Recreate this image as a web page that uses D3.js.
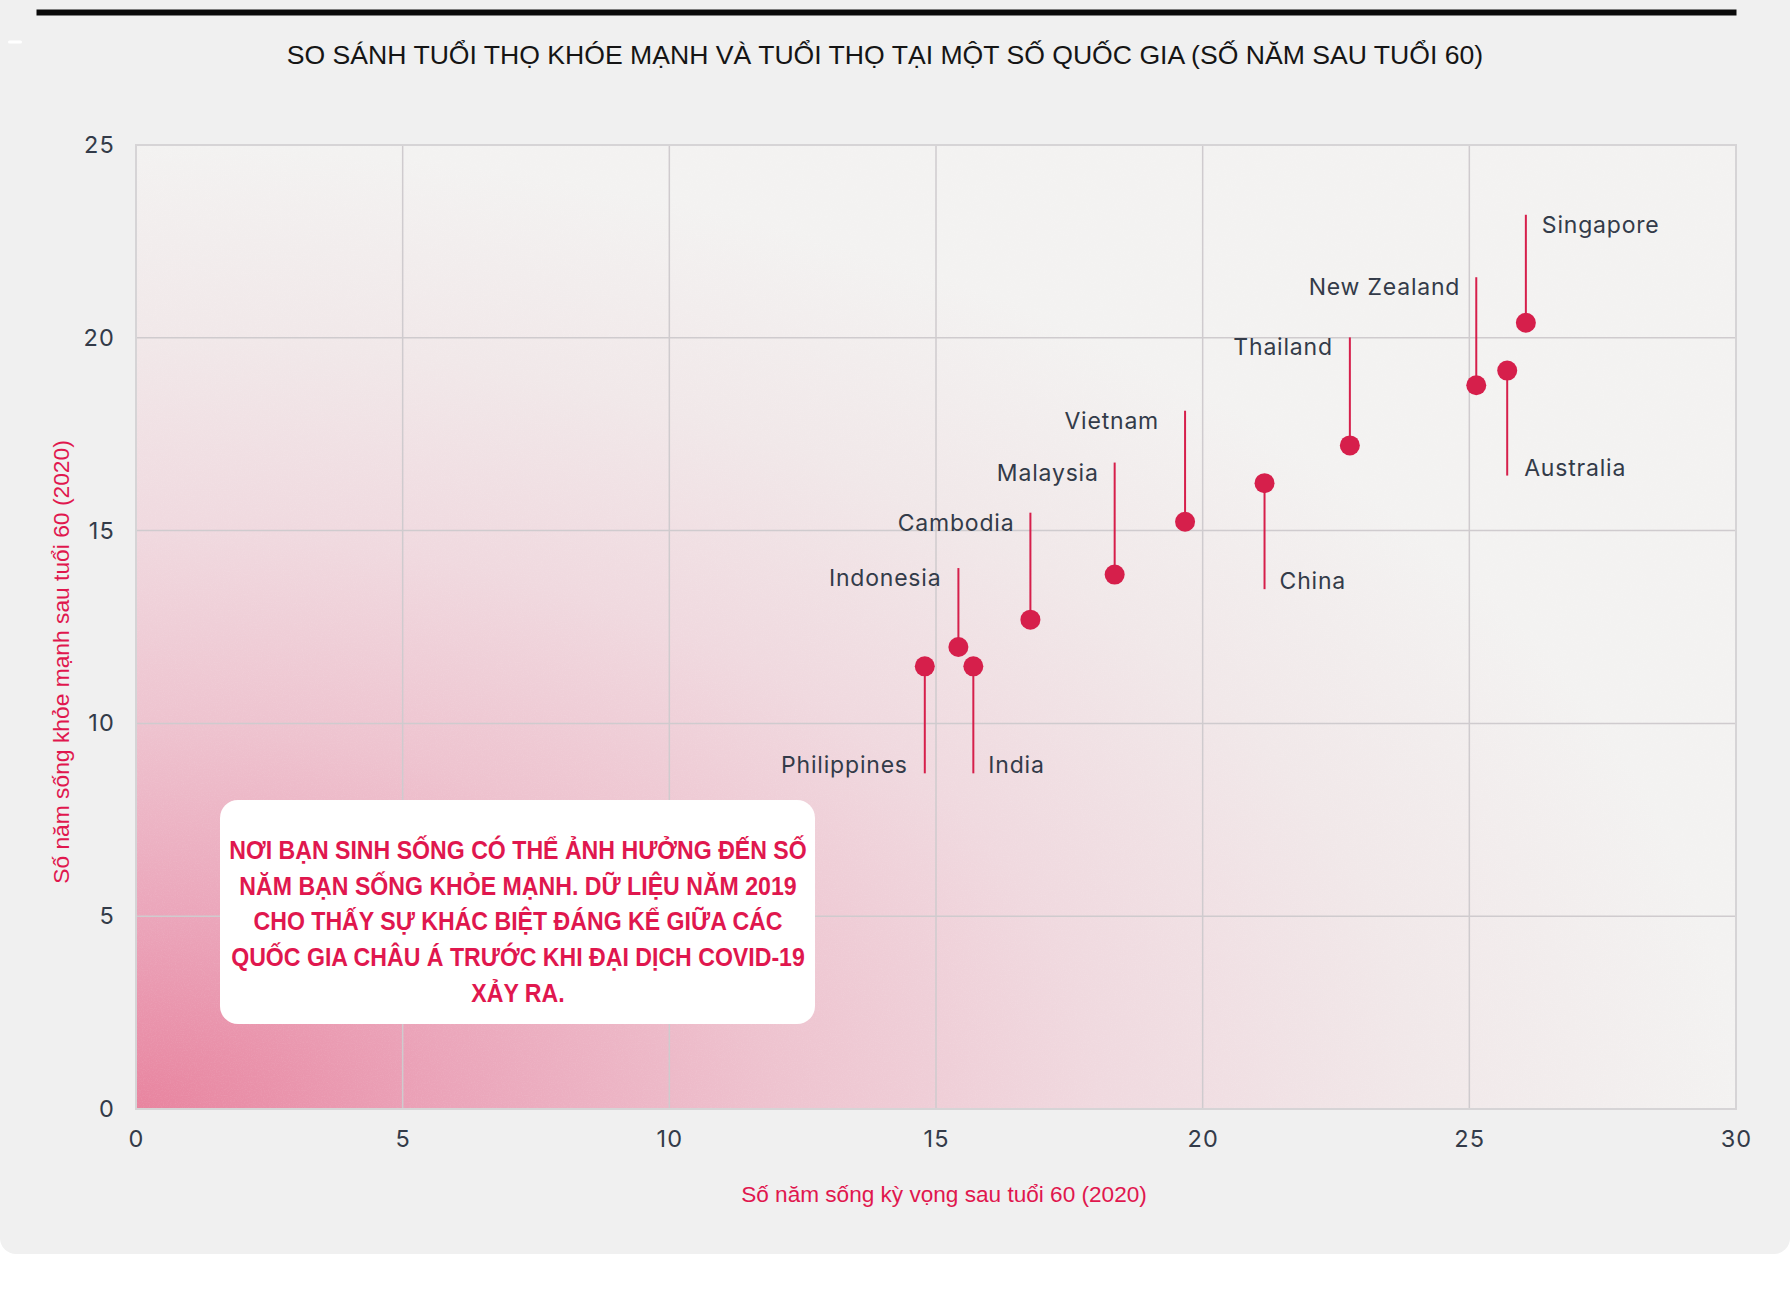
<!DOCTYPE html>
<html>
<head>
<meta charset="utf-8">
<script src="https://cdn.jsdelivr.net/npm/d3@7"></script>
<style>
  html, body { margin: 0; padding: 0; background: #ffffff; }
  svg { display: block; }
</style>
</head>
<body>
<svg id="chart" width="1790" height="1290"></svg>
<script>
// ---------- data ----------
const countries = ["Singapore", "New Zealand", "Australia", "Thailand", "China", "Vietnam",
                   "Malaysia", "Cambodia", "Indonesia", "Philippines", "India"];
const lifeExpectancy60 = [26.06, 25.13, 25.71, 22.76, 21.16, 19.67, 18.35, 16.77, 15.42, 14.79, 15.70];
const healthyLife60    = [20.39, 18.77, 19.15, 17.21, 16.23, 15.23, 13.86, 12.69, 11.98, 11.48, 11.48];
const xTicks = [0, 5, 10, 15, 20, 25, 30];
const yTicks = [0, 5, 10, 15, 20, 25];
const chartTitle = "SO SÁNH TUỔI THỌ KHÓE MẠNH VÀ TUỔI THỌ TẠI MỘT SỐ QUỐC GIA (SỐ NĂM SAU TUỔI 60)";
const xTitle = "Số năm sống kỳ vọng sau tuổi 60 (2020)";
const yTitle = "Số năm sống khỏe mạnh sau tuổi 60 (2020)";
const noteLines = [
  "NƠI BẠN SINH SỐNG CÓ THỂ ẢNH HƯỞNG ĐẾN SỐ",
  "NĂM BẠN SỐNG KHỎE MẠNH. DỮ LIỆU NĂM 2019",
  "CHO THẤY SỰ KHÁC BIỆT ĐÁNG KỂ GIỮA CÁC",
  "QUỐC GIA CHÂU Á TRƯỚC KHI ĐẠI DỊCH COVID-19",
  "XẢY RA."
];

// ---------- label layout (annotation placement, px) ----------
const labelLayout = {
  "Singapore":   { dir: -1, len: 108, side: "right", gap: 16 },
  "New Zealand": { dir: -1, len: 108, side: "left",  gap: 16 },
  "Australia":   { dir:  1, len: 105, side: "right", gap: 17 },
  "Thailand":    { dir: -1, len: 108, side: "left",  gap: 17 },
  "China":       { dir:  1, len: 106, side: "right", gap: 15 },
  "Vietnam":     { dir: -1, len: 111, side: "left",  gap: 26 },
  "Malaysia":    { dir: -1, len: 112, side: "left",  gap: 16 },
  "Cambodia":    { dir: -1, len: 107, side: "left",  gap: 16 },
  "Indonesia":   { dir: -1, len: 79,  side: "left",  gap: 17 },
  "Philippines": { dir:  1, len: 107, side: "left",  gap: 17 },
  "India":       { dir:  1, len: 107, side: "right", gap: 15 }
};

const data = countries.map((c, i) => ({ name: c, x: lifeExpectancy60[i], y: healthyLife60[i] }));

// ---------- layout ----------
const W = 1790, H = 1290;
const plot = { left: 136, right: 1736, top: 145, bottom: 1109 };
const RED = "#d61f4b";
const TEXTRED = "#e0174e";
const INK = "#333b49";

const svg = d3.select("#chart");
const defs = svg.append("defs");

// panel background
svg.append("rect").attr("x", 0).attr("y", -30).attr("width", W).attr("height", 1254 + 30)
  .attr("rx", 16).attr("fill", "#f0f0f0");
svg.append("rect").attr("x", 8).attr("y", 40.5).attr("width", 14).attr("height", 3)
  .attr("rx", 1.5).attr("fill", "#ffffff");

// top black bar
svg.append("rect").attr("x", 36.5).attr("y", 9.5).attr("width", 1700).attr("height", 6).attr("fill", "#0a0a0a");

// title
svg.append("text").attr("x", 885).attr("y", 64).attr("text-anchor", "middle")
  .attr("font-family", "'Liberation Sans', Arial, sans-serif").attr("font-size", 26.6)
  .attr("fill", "#151515").text(chartTitle);

// scales
const x = d3.scaleLinear().domain([0, 30]).range([plot.left, plot.right]);
const y = d3.scaleLinear().domain([0, 25]).range([plot.bottom, plot.top]);

// gradient background
const grad = defs.append("radialGradient").attr("id", "bgGrad")
  .attr("gradientUnits", "objectBoundingBox")
  .attr("cx", 0).attr("cy", 1).attr("r", 1).attr("fx", 0).attr("fy", 1);
[[0, "#e8849f"], [0.2, "#eba5ba"], [0.4, "#eec3cf"], [0.6, "#f0d9df"], [0.8, "#f1e8e9"], [1, "#f3f2f1"]]
  .forEach(([o, c]) => grad.append("stop").attr("offset", o).attr("stop-color", c));

svg.append("rect").attr("x", plot.left).attr("y", plot.top)
  .attr("width", plot.right - plot.left).attr("height", plot.bottom - plot.top)
  .attr("fill", "url(#bgGrad)");

// grain
const noise = defs.append("filter").attr("id", "grain")
  .attr("filterUnits", "userSpaceOnUse")
  .attr("x", plot.left).attr("y", plot.top)
  .attr("width", plot.right - plot.left).attr("height", plot.bottom - plot.top);
noise.append("feTurbulence").attr("type", "fractalNoise").attr("baseFrequency", 0.85)
  .attr("numOctaves", 2).attr("seed", 3).attr("result", "n");
noise.append("feColorMatrix").attr("type", "matrix")
  .attr("values", "0 0 0 0 1  0 0 0 0 1  0 0 0 0 1  0 0 0 0.5 -0.22");
svg.append("rect").attr("x", plot.left).attr("y", plot.top)
  .attr("width", plot.right - plot.left).attr("height", plot.bottom - plot.top)
  .attr("filter", "url(#grain)").attr("opacity", 0.35);

// gridlines
const grid = svg.append("g").attr("stroke", "#cfcbce").attr("stroke-width", 1.5);
xTicks.forEach(t => grid.append("line").attr("x1", x(t)).attr("x2", x(t)).attr("y1", plot.top).attr("y2", plot.bottom));
yTicks.forEach(t => grid.append("line").attr("x1", plot.left).attr("x2", plot.right).attr("y1", y(t)).attr("y2", y(t)));

// plot border
svg.append("rect").attr("x", plot.left).attr("y", plot.top)
  .attr("width", plot.right - plot.left).attr("height", plot.bottom - plot.top)
  .attr("fill", "none").attr("stroke", "#d6d4d6").attr("stroke-width", 2);

// axes
const tickFont = "Inter, 'Noto Sans', sans-serif";
const xAxis = svg.append("g").attr("transform", `translate(0,${plot.bottom})`)
  .call(d3.axisBottom(x).tickValues(xTicks).tickSize(0).tickPadding(21).tickFormat(d3.format("d")));
const yAxis = svg.append("g").attr("transform", `translate(${plot.left},0)`)
  .call(d3.axisLeft(y).tickValues(yTicks).tickSize(0).tickPadding(21).tickFormat(d3.format("d")));
[xAxis, yAxis].forEach(a => {
  a.select(".domain").remove();
  a.selectAll("text").attr("font-family", tickFont).attr("font-size", 23.5)
    .attr("fill", INK).attr("letter-spacing", "1.2px");
});

// axis titles
svg.append("text").attr("x", 944).attr("y", 1202).attr("text-anchor", "middle")
  .attr("font-family", "'Liberation Sans', Arial, sans-serif").attr("font-size", 22.6)
  .attr("fill", TEXTRED).text(xTitle);
svg.append("text").attr("transform", "translate(69,662) rotate(-90)").attr("text-anchor", "middle")
  .attr("font-family", "'Liberation Sans', Arial, sans-serif").attr("font-size", 22.8)
  .attr("fill", TEXTRED).text(yTitle);

// annotation box
const box = { x: 220, y: 800, w: 595, h: 224 };
svg.append("rect").attr("x", box.x).attr("y", box.y).attr("width", box.w).attr("height", box.h)
  .attr("rx", 18).attr("fill", "#ffffff");
const noteCx = 518;
const note = svg.append("g").attr("font-family", "'Liberation Sans', Arial, sans-serif")
  .attr("font-weight", "bold").attr("font-size", 25.5).attr("fill", TEXTRED).attr("text-anchor", "middle");
const noteTexts = noteLines.map((l, i) => note.append("text").attr("x", 0).attr("y", 859 + i * 35.7).text(l));
// condensed look: squeeze horizontally so the first line spans ~578px
const w0 = noteTexts[0].node().getComputedTextLength();
const sx = w0 > 0 ? 578 / w0 : 1;
note.attr("transform", `translate(${noteCx},0) scale(${sx},1)`);

// stems, dots, labels
const marks = svg.append("g");
data.forEach(d => {
  const L = labelLayout[d.name];
  const cx = x(d.x), cy = y(d.y);
  const end = cy + L.dir * L.len;
  marks.append("line").attr("x1", cx).attr("x2", cx).attr("y1", cy).attr("y2", end)
    .attr("stroke", RED).attr("stroke-width", 2);
  const baseline = L.dir < 0 ? end + 18 : end;
  marks.append("text")
    .attr("x", L.side === "left" ? cx - L.gap : cx + L.gap)
    .attr("y", baseline)
    .attr("text-anchor", L.side === "left" ? "end" : "start")
    .attr("font-family", tickFont).attr("font-size", 23).attr("letter-spacing", "0.8px")
    .attr("fill", INK).text(d.name);
});
marks.selectAll("circle").data(data).join("circle")
  .attr("cx", d => x(d.x)).attr("cy", d => y(d.y)).attr("r", 10).attr("fill", RED);
</script>
</body>
</html>
